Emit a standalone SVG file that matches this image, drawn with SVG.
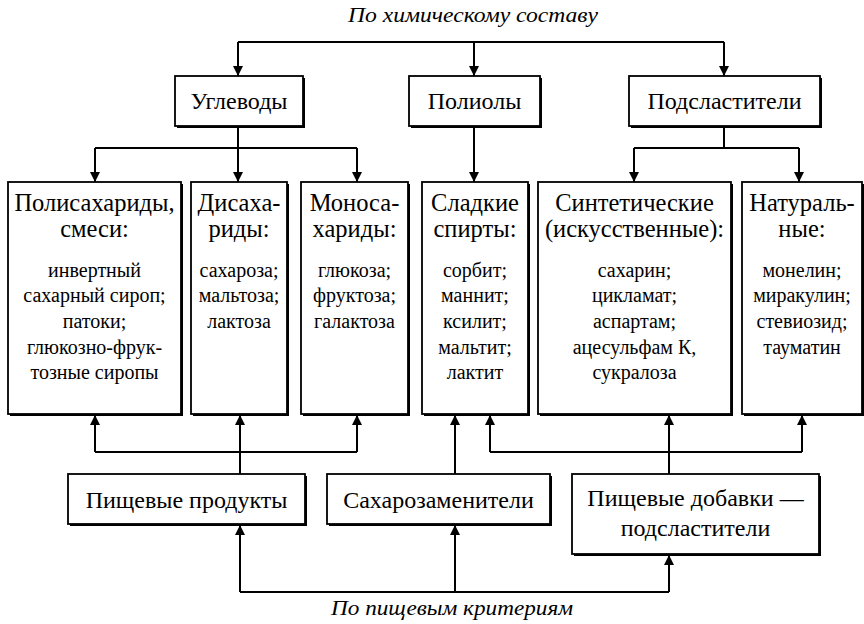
<svg xmlns="http://www.w3.org/2000/svg" width="864" height="624" viewBox="0 0 864 624">
  <defs>
    <marker id="arr" viewBox="0 0 10 10" refX="10" refY="5" markerWidth="10" markerHeight="10" markerUnits="userSpaceOnUse" orient="auto">
      <path d="M0,0 L10,5 L0,10 Z" fill="#000"/>
    </marker>
  </defs>
  <style>
    .shadow { fill: #000; }
    .box { fill: #fff; stroke: #000; stroke-width: 1.8; }
    .t { font-family: "Liberation Serif", "Times New Roman", serif; fill: #000; text-anchor: middle; }
    .h1 { font-size: 24px; }
    .h2 { font-size: 24.5px; }
    .s { font-size: 20px; }
    .cap { font-family: "Liberation Serif", serif; font-style: italic; font-size: 21px; text-anchor: middle; fill: #000; }
    .ln { fill: none; stroke: #000; stroke-width: 2; }
    .ar { fill: none; stroke: #000; stroke-width: 2; marker-end: url(#arr); }
  </style>
  <rect width="864" height="624" fill="#fff"/>

  <!-- section captions -->
  <text class="cap" x="473" y="22" textLength="250" lengthAdjust="spacingAndGlyphs">По химическому составу</text>
  <text class="cap" x="452" y="615" textLength="242" lengthAdjust="spacingAndGlyphs">По пищевым критериям</text>

  <!-- connectors -->
  <g id="connectors">
    <!-- chemical composition fan-out -->
    <path class="ln" d="M238,42 H724"/>
    <path class="ar" d="M238,42 V76"/>
    <path class="ar" d="M474,42 V76"/>
    <path class="ar" d="M724,42 V76"/>
    <!-- carbohydrates -->
    <path class="ln" d="M238,126 V148 M95,148 H357"/>
    <path class="ar" d="M95,148 V182"/>
    <path class="ar" d="M238,148 V182"/>
    <path class="ar" d="M357,148 V182"/>
    <!-- polyols -->
    <path class="ar" d="M474,126 V182"/>
    <!-- sweeteners -->
    <path class="ln" d="M724,126 V148 M634,148 H799"/>
    <path class="ar" d="M634,148 V182"/>
    <path class="ar" d="M799,148 V182"/>
    <!-- food products -->
    <path class="ln" d="M95,452 H357"/>
    <path class="ar" d="M95,452 V415"/>
    <path class="ar" d="M357,452 V415"/>
    <path class="ar" d="M240,474 V415"/>
    <!-- sugar substitutes -->
    <path class="ar" d="M455,474 V415"/>
    <!-- food additives -->
    <path class="ln" d="M490,452 H802"/>
    <path class="ar" d="M490,452 V415"/>
    <path class="ar" d="M802,452 V415"/>
    <path class="ar" d="M669,474 V415"/>
    <!-- food criteria fan-out -->
    <path class="ln" d="M240,592 H669"/>
    <path class="ar" d="M240,592 V525"/>
    <path class="ar" d="M455,592 V525"/>
    <path class="ar" d="M669,592 V555"/>
  </g>

  <!-- level 1 -->
  <g id="uglevody">
    <rect class="shadow" x="177" y="78" width="128" height="50"/>
    <rect class="box" x="175" y="76" width="128" height="50"/>
    <text class="t h1" x="239" y="109">Углеводы</text>
  </g>
  <g id="polioly">
    <rect class="shadow" x="411" y="78" width="131" height="50"/>
    <rect class="box" x="409" y="76" width="131" height="50"/>
    <text class="t h1" x="474.5" y="109">Полиолы</text>
  </g>
  <g id="podslastiteli">
    <rect class="shadow" x="631" y="78" width="191" height="50"/>
    <rect class="box" x="629" y="76" width="191" height="50"/>
    <text class="t h1" x="724.5" y="109">Подсластители</text>
  </g>

  <!-- level 2 -->
  <g id="polisaharidy">
    <rect class="shadow" x="10" y="184" width="173" height="232"/>
    <rect class="box" x="8" y="182" width="173" height="232"/>
    <text class="t h2" x="94.5" y="211">Полисахариды,</text>
    <text class="t h2" x="94.5" y="237">смеси:</text>
    <text class="t s" x="94.5" y="277">инвертный</text>
    <text class="t s" x="94.5" y="302">сахарный сироп;</text>
    <text class="t s" x="94.5" y="328">патоки;</text>
    <text class="t s" x="94.5" y="354">глюкозно-фрук-</text>
    <text class="t s" x="94.5" y="379">тозные сиропы</text>
  </g>
  <g id="disaharidy">
    <rect class="shadow" x="193" y="184" width="96" height="232"/>
    <rect class="box" x="191" y="182" width="96" height="232"/>
    <text class="t h2" x="239" y="211">Дисаха-</text>
    <text class="t h2" x="239" y="237">риды:</text>
    <text class="t s" x="239" y="277">сахароза;</text>
    <text class="t s" x="239" y="302">мальтоза;</text>
    <text class="t s" x="239" y="328">лактоза</text>
  </g>
  <g id="monosaharidy">
    <rect class="shadow" x="303" y="184" width="107" height="232"/>
    <rect class="box" x="301" y="182" width="107" height="232"/>
    <text class="t h2" x="354.5" y="211">Моноса-</text>
    <text class="t h2" x="354.5" y="237">хариды:</text>
    <text class="t s" x="354.5" y="277">глюкоза;</text>
    <text class="t s" x="354.5" y="302">фруктоза;</text>
    <text class="t s" x="354.5" y="328">галактоза</text>
  </g>
  <g id="spirty">
    <rect class="shadow" x="424" y="184" width="106" height="232"/>
    <rect class="box" x="422" y="182" width="106" height="232"/>
    <text class="t h2" x="475" y="211">Сладкие</text>
    <text class="t h2" x="475" y="237">спирты:</text>
    <text class="t s" x="475" y="277">сорбит;</text>
    <text class="t s" x="475" y="302">маннит;</text>
    <text class="t s" x="475" y="328">ксилит;</text>
    <text class="t s" x="475" y="354">мальтит;</text>
    <text class="t s" x="475" y="379">лактит</text>
  </g>
  <g id="sinteticheskie">
    <rect class="shadow" x="540" y="184" width="193" height="232"/>
    <rect class="box" x="538" y="182" width="193" height="232"/>
    <text class="t h2" x="634.5" y="211">Синтетические</text>
    <text class="t h2" x="634.5" y="237">(искусственные):</text>
    <text class="t s" x="634.5" y="277">сахарин;</text>
    <text class="t s" x="634.5" y="302">цикламат;</text>
    <text class="t s" x="634.5" y="328">аспартам;</text>
    <text class="t s" x="634.5" y="354">ацесульфам К,</text>
    <text class="t s" x="634.5" y="379">сукралоза</text>
  </g>
  <g id="naturalnye">
    <rect class="shadow" x="744" y="184" width="120" height="232"/>
    <rect class="box" x="742" y="182" width="120" height="232"/>
    <text class="t h2" x="802" y="211">Натураль-</text>
    <text class="t h2" x="802" y="237">ные:</text>
    <text class="t s" x="802" y="277">монелин;</text>
    <text class="t s" x="802" y="302">миракулин;</text>
    <text class="t s" x="802" y="328">стевиозид;</text>
    <text class="t s" x="802" y="354">тауматин</text>
  </g>

  <!-- level 3 -->
  <g id="pishchevye-produkty">
    <rect class="shadow" x="70" y="476" width="237" height="50"/>
    <rect class="box" x="68" y="474" width="237" height="50"/>
    <text class="t h1" x="186.5" y="508">Пищевые продукты</text>
  </g>
  <g id="saharozameniteli">
    <rect class="shadow" x="329" y="476" width="223" height="50"/>
    <rect class="box" x="327" y="474" width="223" height="50"/>
    <text class="t h1" x="438.5" y="508">Сахарозаменители</text>
  </g>
  <g id="pishchevye-dobavki">
    <rect class="shadow" x="574" y="476" width="247" height="80"/>
    <rect class="box" x="572" y="474" width="247" height="80"/>
    <text class="t h1" x="695.5" y="506">Пищевые добавки —</text>
    <text class="t h1" x="695.5" y="536">подсластители</text>
  </g>
</svg>
